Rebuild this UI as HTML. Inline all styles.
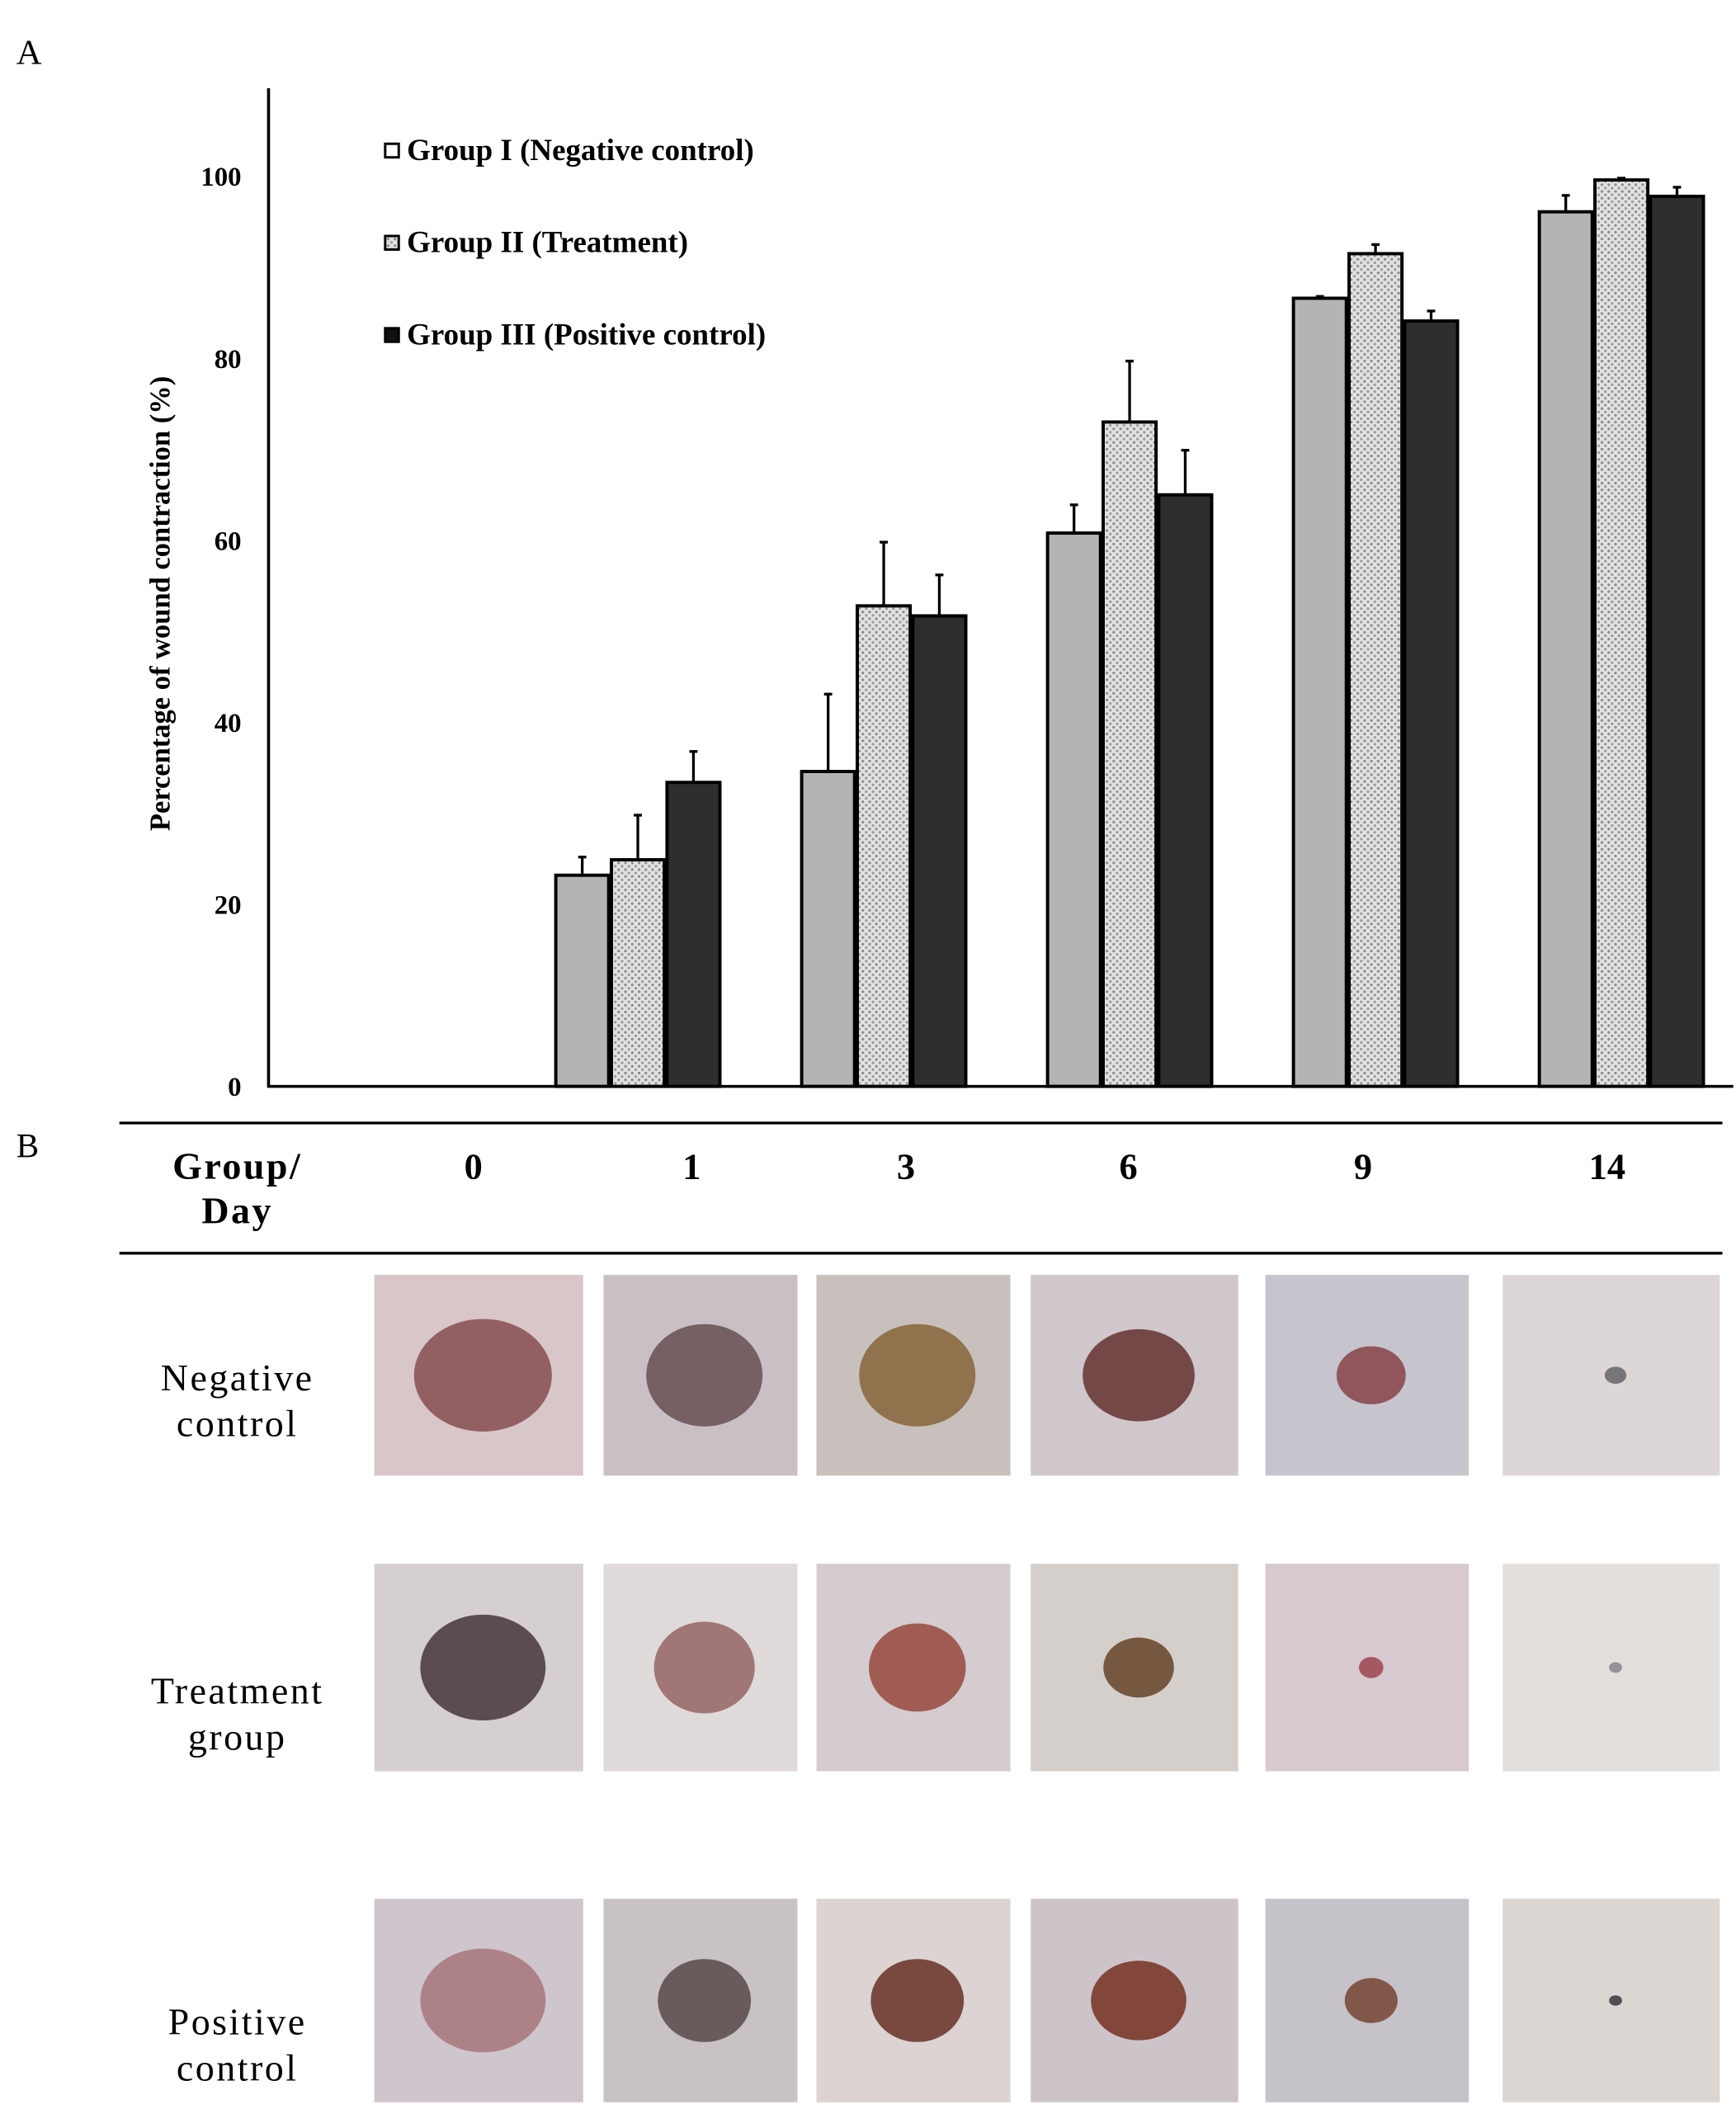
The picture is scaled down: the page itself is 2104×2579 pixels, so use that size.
<!DOCTYPE html>
<html><head><meta charset="utf-8"><style>
html,body{margin:0;padding:0;background:#fff;}
svg{display:block;font-family:"Liberation Serif",serif;}
</style></head><body>
<svg id="fig" width="2104" height="2579" viewBox="0 0 1280 1569" xmlns="http://www.w3.org/2000/svg">
<defs>
<pattern id="dots" width="5" height="5" patternUnits="userSpaceOnUse">
<rect width="5" height="5" fill="#e2e2e2"/>
<circle cx="1.2" cy="1.2" r="1" fill="#8a8a8a"/>
<circle cx="3.7" cy="3.7" r="1" fill="#9a9a9a"/>
</pattern>
</defs>
<text x="12" y="47" font-size="26">A</text>
<text x="12" y="853" font-size="25">B</text>
<g id="chart"></g>
<g id="table"></g>
</svg>
<script>
const days = ["0","1","3","6","9","14"];
const groupNames = ["Group I (Negative control)","Group II (Treatment)","Group III (Positive control)"];
const negative = [null, 23.2, 34.6, 60.8, 86.6, 96.1];
const treatment = [null, 24.9, 52.8, 73.0, 91.5, 99.6];
const positive = [null, 33.4, 51.7, 65.0, 84.1, 97.8];
const negErr = [null, 2.0, 8.5, 3.1, 0.2, 1.8];
const treatErr = [null, 4.9, 7.0, 6.7, 1.0, 0.2];
const posErr = [null, 3.4, 4.5, 4.9, 1.1, 1.0];
const yTicks = [0,20,40,60,80,100];

const NS="http://www.w3.org/2000/svg";
function mk(tag, attrs, parent){const e=document.createElementNS(NS,tag);for(const k in attrs)e.setAttribute(k,attrs[k]);parent.appendChild(e);return e;}
const chart=document.getElementById('chart');
const y0=801, yPer=(801-130)/100;
const yS=v=>y0-v*yPer;
const xC=i=>289+181.3*i;
const bw=39;

let ax=mk('line',{x1:198,y1:65,x2:198,y2:801.5,stroke:'#000','stroke-width':2.2},chart);


let bx=mk('line',{x1:197,y1:801,x2:1278,y2:801,stroke:'#000','stroke-width':2.2},chart);


yTicks.forEach(t=>{
  const tx=mk('text',{x:178,y:yS(t)+7,'text-anchor':'end','font-size':20,'font-weight':'bold'},chart);
  tx.textContent=t;
  
  
});
const yt=mk('text',{x:0,y:0,'text-anchor':'middle','font-size':21,'font-weight':'bold',transform:'translate(125,445) rotate(-90)'},chart);
yt.textContent='Percentage of wound contraction (%)';



const legFill=['#fff','url(#dots)','#111'];
groupNames.forEach((n,i)=>{
  const y=112+68*i;
  const r=mk('rect',{x:284,y:y-6,width:10,height:10,fill:legFill[i],stroke:'#000','stroke-width':1.8},chart);
  
  
  const t=mk('text',{x:300,y:y+6,'font-size':22.5,'font-weight':'bold'},chart);
  t.textContent=n;
  
  
});

const series=[[negative,negErr,'#b4b4b4','negative'],[treatment,treatErr,'url(#dots)','treatment'],[positive,posErr,'#2e2e2e','positive']];
days.forEach((d,i)=>{
  series.forEach((s,j)=>{
    const v=s[0][i]; if(v==null) return;
    const x=xC(i)-1.5*bw-2+j*(bw+2);
    const e=s[1][i];
    const el=mk('line',{x1:x+bw/2,x2:x+bw/2,y1:yS(v),y2:yS(v+e),stroke:'#000','stroke-width':2},chart);
    
    
    const cap=mk('line',{x1:x+bw/2-3,x2:x+bw/2+3,y1:yS(v+e),y2:yS(v+e),stroke:'#000','stroke-width':2},chart);
    
    
    const r=mk('rect',{x:x,y:yS(v),width:bw,height:y0-yS(v),fill:s[2],stroke:'#000','stroke-width':2.4},chart);
    
    
  });
});

const tb=document.getElementById('table');
const l1=mk('line',{x1:88,x2:1270,y1:828,y2:828,stroke:'#000','stroke-width':2},tb);


const l2=mk('line',{x1:88,x2:1270,y1:924,y2:924,stroke:'#000','stroke-width':2},tb);


const h1=mk('text',{x:175,y:869,'text-anchor':'middle','font-size':28,'font-weight':'bold','letter-spacing':1.5},tb);
h1.textContent='Group/';


const h2=mk('text',{x:175,y:902,'text-anchor':'middle','font-size':28,'font-weight':'bold','letter-spacing':1.5},tb);
h2.textContent='Day';


const colX=[349,510,668,832,1005,1185];
days.forEach((d,i)=>{
  const t=mk('text',{x:colX[i],y:869,'text-anchor':'middle','font-size':27,'font-weight':'bold'},tb);
  t.textContent=d;
  
  
});
const rowLabels=[["Negative","control",1025],["Treatment","group",1256],["Positive","control",1500]];
rowLabels.forEach(r=>{
  [0,1].forEach(k=>{
    const t=mk('text',{x:175,y:r[2]+k*34,'text-anchor':'middle','font-size':28,'letter-spacing':1.5},tb);
    t.textContent=r[k];
    
    
  });
});
const rowsY=[[940,1088],[1153,1306],[1400,1550]];
const colsX=[[276,430],[445,588],[602,745],[760,913],[933,1083],[1108,1268]];
const woundSize=[[0.33,0.3,0.3,0.27,0.17,0.05],[0.3,0.26,0.25,0.17,0.06,0.03],[0.3,0.24,0.24,0.23,0.13,0.03]];
const woundCol=[["#8a5358","#6e5558","#8a6a40","#6a3a3a","#8a4a50","#6a6a70"],["#4e3e40","#9a6a6a","#9a5045","#6a4a30","#a04a55","#8a8a90"],["#a87a80","#5e5050","#6e3a30","#7a3a2a","#7a4a3a","#404048"]];
const bgCol=[["#d9c6c8","#c9c0c6","#c8c0bc","#cfc7cb","#c6c4cd","#ddd6d6"],["#d6cfd1","#e0dadb","#d4cccf","#d5cfcb","#d8c8cf","#e3dfdc"],["#cfc5cc","#c9c2c5","#dcd3d2","#cdc4ca","#c5c2c9","#dcd6d2"]];
rowsY.forEach((ry,r)=>{
  colsX.forEach((cx,c)=>{
    const w=cx[1]-cx[0], h=ry[1]-ry[0];
    const bg=mk('rect',{x:cx[0],y:ry[0],width:w,height:h,fill:bgCol[r][c]},tb);
    
    
    const s=woundSize[r][c];
    const el=mk('ellipse',{cx:cx[0]+w*0.52,cy:ry[0]+h*0.5,rx:w*s,ry:h*s*0.85,fill:woundCol[r][c],opacity:0.9},tb);
    
    
  });
});
</script>
</body></html>
